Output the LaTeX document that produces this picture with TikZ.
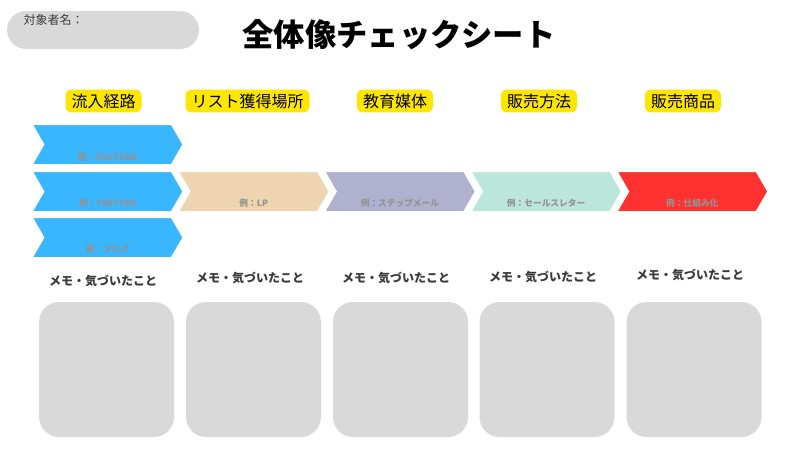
\documentclass[tikz,border=0pt]{standalone}
\usepackage{fontspec}
\setmainfont{Noto Sans CJK JP}
\usetikzlibrary{shapes.symbols}

\definecolor{pillgray}{HTML}{D9D9D9}
\definecolor{headyellow}{HTML}{FFE600}
\definecolor{exgray}{HTML}{939393}
\definecolor{memogray}{HTML}{3A3A3A}
\definecolor{chevblue}{HTML}{38B6FF}
\definecolor{chevtan}{HTML}{EFD5AF}
\definecolor{chevpurple}{HTML}{B0B0CF}
\definecolor{chevmint}{HTML}{BCE6DC}
\definecolor{chevred}{HTML}{FF3131}

\begin{document}
\begin{tikzpicture}[x=1pt, y=-1pt,
	chev/.style={signal, signal from=west, signal to=east, signal pointer angle=120, minimum width=152pt, minimum height=41pt, inner sep=0pt, draw=white, line width=2pt},
	extext/.style={font=\bfseries\fontsize{8.7}{10}\selectfont, text=exgray},
	head/.style={fill=headyellow, rounded corners=6pt, font=\fontsize{16}{19}\selectfont, inner xsep=6pt, inner ysep=4pt},
	memo/.style={font=\bfseries\fontsize{12}{14}\selectfont, text=memogray},
	memobox/.style={fill=pillgray, rounded corners=20pt, minimum width=135pt, minimum height=135pt}]
	\useasboundingbox (0,0) rectangle (800,450);

	\node[fill=pillgray, rounded corners=19pt, minimum width=192pt, minimum height=38pt] (pill) at (103,30) {};
	\node[anchor=west, font=\fontsize{12}{14}\selectfont, text=memogray] (who) at (20,20) {対象者名：};
	\node[font=\bfseries\fontsize{31.3}{36}\selectfont] (title) at (399,35) {全体像チェックシート};

	\node[head] (h1) at (103.5,101) {流入経路};
	\node[head] (h2) at (247.5,101) {リスト獲得場所};
	\node[head] (h3) at (395,101) {教育媒体};
	\node[head] (h4) at (539,101) {販売方法};
	\node[head] (h5) at (683,101) {販売商品};

	\node[chev, fill=chevblue] (route1) at (107.5,144.5) {};
	\node[extext] at ([yshift=-13pt]route1.center) {例：YOUTUBE};
	\node[chev, fill=chevblue] (route2) at (107.5,191.5) {};
	\node[extext] at ([yshift=-12pt]route2.center) {例：TWITTER};
	\node[chev, fill=chevblue] (route3) at (107.5,237.5) {};
	\node[extext] at ([yshift=-12pt]route3.center) {例：ブログ};

	\node[chev, fill=chevtan] (list) at (253.7,191.5) {};
	\node[extext] at ([yshift=-12pt]list.center) {例：LP};
	\node[chev, fill=chevpurple] (media) at (399.9,191.5) {};
	\node[extext] at ([yshift=-12pt]media.center) {例：ステップメール};
	\node[chev, fill=chevmint] (method) at (546.1,191.5) {};
	\node[extext] at ([yshift=-12pt]method.center) {例：セールスレター};
	\node[chev, fill=chevred] (product) at (692.3,191.5) {};
	\node[extext] at ([yshift=-12pt]product.center) {例：仕組み化};

	\node[memo] (m1) at (103,281) {メモ・気づいたこと};
	\node[memo] (m2) at (250,278) {メモ・気づいたこと};
	\node[memo] (m3) at (396,278) {メモ・気づいたこと};
	\node[memo] (m4) at (543,277) {メモ・気づいたこと};
	\node[memo] (m5) at (690,275) {メモ・気づいたこと};

	\node[memobox] (b1) at (106.5,369.5) {};
	\node[memobox] (b2) at (253.5,369.5) {};
	\node[memobox] (b3) at (400.5,369.5) {};
	\node[memobox] (b4) at (547,369.5) {};
	\node[memobox] (b5) at (694,369.5) {};
\end{tikzpicture}
\end{document}
